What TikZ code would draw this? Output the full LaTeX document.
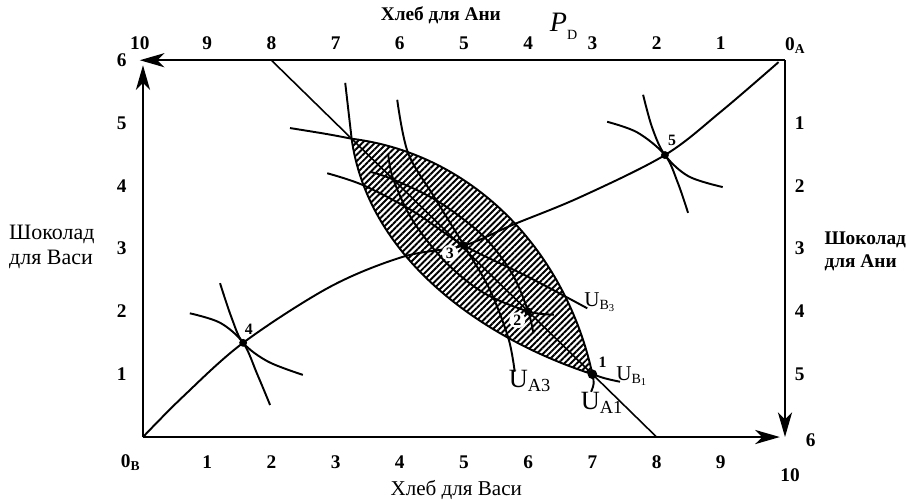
\documentclass[tikz,border=0pt]{standalone}
\usepackage{fontspec}
\setmainfont{Liberation Serif}
\usetikzlibrary{arrows.meta, patterns.meta}

\begin{document}
\begin{tikzpicture}[
    x=1.284cm, y=1.256cm,
    >={Stealth[length=14pt, width=8pt, inset=4pt]},
    axis/.style={->, line width=1.4pt},
    indiff/.style={line width=1.1pt, smooth, tension=0.55},
    budget/.style={line width=0.9pt},
    tick/.style={font=\fontsize{11}{13}\selectfont\bfseries, inner sep=1pt},
    dot/.style={circle, fill=black, inner sep=0pt, minimum size=4.5pt},
    num/.style={font=\fontsize{9}{10}\selectfont\bfseries, inner sep=0.6pt},
    util/.style={font=\fontsize{15}{16}\selectfont, inner sep=0pt},
    utilsm/.style={font=\fontsize{12}{13}\selectfont, inner sep=0pt},
    hatch/.style={pattern={Lines[angle=45, distance=2.5pt, line width=1.1pt]}},
]
\useasboundingbox (-2.227,-0.987) rectangle (11.947,6.959);

\coordinate (OB) at (0,0);
\coordinate (OA) at (10,6);
\coordinate (xB) at (9.92,0);
\coordinate (yB) at (0,5.92);
\coordinate (xA) at (-0.05,6);
\coordinate (yA) at (10,0);
\coordinate (btop) at (2,6);
\coordinate (bbot) at (8,0);
\coordinate (lt) at (3.25,4.75);
\coordinate (e1) at (7,1);

% lens of mutually better trades
\fill[hatch] (lt) .. controls (5.2,4.5) and (6.6,2.9) .. (e1)
    .. controls (5.2,1.6) and (3.5,2.9) .. (lt) -- cycle;

\draw[axis] (OB) -- (xB);
\draw[axis] (OB) -- (yB);
\draw[axis] (OA) -- (xA);
\draw[axis] (OA) -- (yA);

\draw[budget] (btop) -- (bbot);

% contract curve
\draw[indiff] plot coordinates {(0,0) (0.62,0.64) (1.56,1.5) (2.91,2.39) (4.05,2.87) (5,3.05) (5.76,3.38) (6.81,3.82) (8.13,4.49) (9.0,5.18) (9.9,5.97)};

% U_A1 and U_B1
\draw[line width=1.1pt] (2.29,4.92) .. controls (2.9,4.82) .. (lt)
    .. controls (5.2,4.5) and (6.6,2.9) .. (e1)
    .. controls (7.03,0.85) .. (6.98,0.72);
\draw[line width=1.1pt] (3.15,5.64) .. controls (3.2,5.2) .. (lt)
    .. controls (3.5,2.9) and (5.2,1.6) .. (e1)
    .. controls (7.2,0.93) .. (7.43,0.88);

\draw[indiff] plot coordinates {(3.96,5.37) (4.13,4.52) (4.55,3.8) (5,3.05) (5.4,2.35) (5.69,1.58) (5.79,1.04)};
\draw[indiff] plot coordinates {(2.87,4.2) (3.43,4.01) (4.2,3.6) (5,3.05) (6,2.55) (6.92,2.05)};
\draw[indiff] plot coordinates {(3.55,4.22) (3.9,4.1) (4.6,3.75) (5.3,3.2) (5.75,2.6) (6,2) (6.08,1.65)};
\draw[indiff] plot coordinates {(3.82,4.5) (3.9,4.1) (4.2,3.45) (4.7,2.8) (5.3,2.3) (6,2) (6.4,1.95)};

\draw[indiff] plot coordinates {(1.20,2.45) (1.38,1.9) (1.56,1.5) (1.95,1.2) (2.49,0.99)};
\draw[indiff] plot coordinates {(0.73,1.97) (1.2,1.82) (1.56,1.5) (1.78,1.0) (1.98,0.51)};
\draw[indiff] plot coordinates {(7.79,5.45) (7.93,4.93) (8.13,4.49) (8.5,4.15) (9.03,3.98)};
\draw[indiff] plot coordinates {(7.23,5.02) (7.7,4.85) (8.13,4.49) (8.33,4.05) (8.49,3.57)};

\node[dot, minimum size=5.5pt] (p1) at (e1) {};
\node[dot] (p2) at (6,2) {};
\node[dot] (p3) at (5,3.05) {};
\node[dot] (p4) at (1.56,1.5) {};
\node[dot] (p5) at (8.13,4.49) {};

\node[num] (n1) at (7.16,1.19) {1};
\node[num, circle, fill=white] (n2) at (5.83,1.86) {2};
\node[num, circle, fill=white] (n3) at (4.78,2.93) {3};
\node[num] (n4) at (1.65,1.72) {4};
\node[num] (n5) at (8.24,4.73) {5};

\node[util] (ua3) at (6.03,0.89) {U\textsubscript{A3}};
\node[util] (ua1) at (7.15,0.55) {U\textsubscript{A1}};
\node[utilsm] (ub1) at (7.62,0.97) {U\textsubscript{B\textsubscript{1}}};
\node[utilsm] (ub3) at (7.12,2.15) {U\textsubscript{B\textsubscript{3}}};

\foreach \k in {1,...,9}
    \node[tick] (b\k) at (\k,-0.4) {\k};
\node[tick] (b10) at (10.08,-0.6) {10};
\node[tick] (ob) at (-0.19,-0.4) {0\textsubscript{B}};
\foreach \k in {1,...,9}
    \node[tick] (t\k) at ({10-\k},6.27) {\k};
\node[tick] (t10) at (-0.05,6.27) {10};
\node[tick] (oa) at (10.16,6.24) {0\textsubscript{A}};
\foreach \k in {1,...,6}
    \node[tick] (l\k) at (-0.33,\k) {\k};
\foreach \k in {1,...,5}
    \node[tick] (r\k) at (10.23,{6-\k}) {\k};
\node[tick] (r6) at (10.4,-0.05) {6};

\node[font=\fontsize{16}{18}\selectfont] (pd) at (6.55,6.54)
    {\textit{P}\raisebox{-0.6ex}{\fontsize{8}{8}\selectfont D}};
\node[font=\fontsize{11}{13}\selectfont\bfseries] (toptitle) at (4.64,6.72) {Хлеб для Ани};
\node[font=\fontsize{12}{14}\selectfont] (bottitle) at (4.88,-0.84) {Хлеб для Васи};
\node[align=left, font=\fontsize{12.5}{14}\selectfont] (lefttitle) at (-1.42,3.03) {Шоколад\\для Васи};
\node[align=left, font=\fontsize{11}{13}\selectfont\bfseries] (righttitle) at (11.25,2.96) {Шоколад\\для Ани};

\end{tikzpicture}
\end{document}
